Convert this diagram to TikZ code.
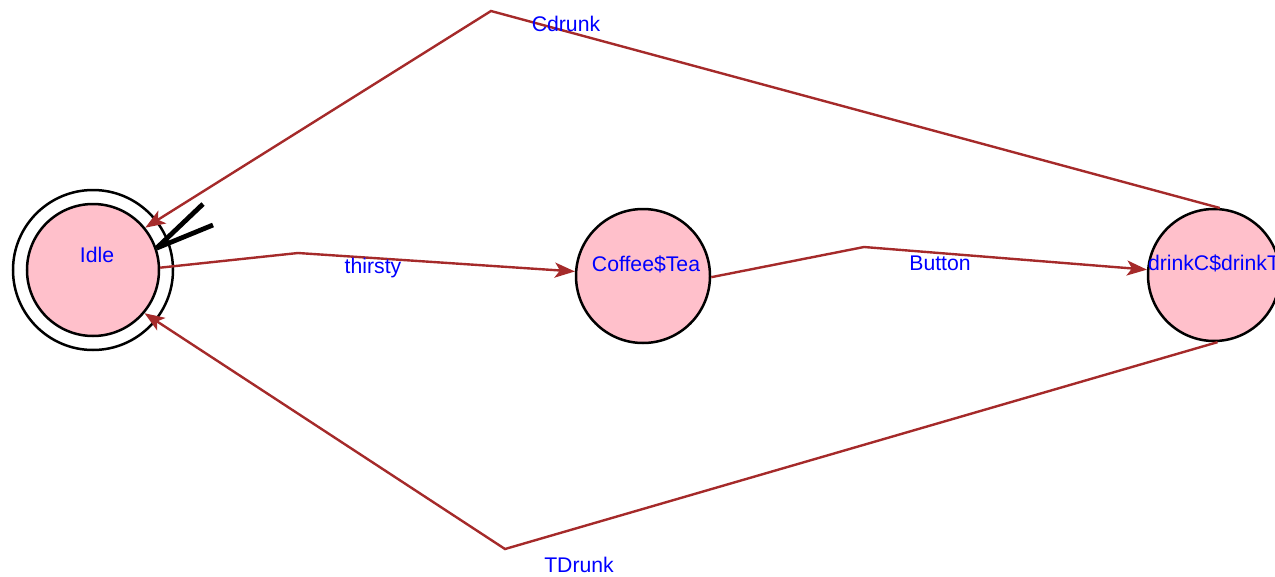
\documentclass[tikz,border=0pt]{standalone}
\usepackage{fontspec}
\setmainfont{Liberation Sans}
\usetikzlibrary{arrows.meta}
\definecolor{edgebrown}{RGB}{165,42,42}
\definecolor{statepink}{RGB}{255,192,203}
\begin{document}
\begin{tikzpicture}[x=1pt,y=-1pt,
  state/.style={circle,draw=black,line width=2.5pt,fill=statepink,inner sep=0pt},
  lbl/.style={text=blue,font=\fontsize{21.2}{24}\selectfont,inner sep=0pt},
  trans/.style={draw=edgebrown,line width=2.4pt,-{Stealth[length=20pt,width=15pt,inset=5pt]}},
  initmark/.style={draw=black,line width=4.8pt}]
\useasboundingbox (0,0) rectangle (1275,576);
\clip (0,0) rectangle (1275,576);
% states
\node[circle,draw=black,line width=2.5pt,minimum size=160pt,inner sep=0pt] (idleouter) at (93,270) {};
\node[state,minimum size=132pt] (idle) at (93,270) {};
\node[state,minimum size=134pt] (coffee) at (643,276) {};
\node[state,minimum size=132pt] (drink) at (1214,275) {};
\node[lbl] (tidle) at (97,255) {Idle};
\node[lbl] (tcoffee) at (646,264) {Coffee\$Tea};
\node[lbl] (tdrink) at (1214,263) {drinkC\$drinkT};
% bend points
\coordinate (b1) at (298,253);
\coordinate (b2) at (864,247);
\coordinate (b3) at (491,11);
\coordinate (b4) at (505,549);
% transitions
\draw[trans] (idle.2) -- (b1) -- (coffee);
\draw[trans] (coffee.-1) -- (b2) -- (drink);
\draw[trans] (drink.85) -- (b3) -- (idle.39);
\draw[trans] (drink.-87) -- (b4) -- (idle.-40);
% edge labels
\node[lbl] (lthirsty) at (373,268) {thirsty};
\node[lbl] (lbutton) at (940,263) {Button};
\node[lbl] (lcdrunk) at (566,24) {Cdrunk};
\node[lbl] (ltdrunk) at (579,565) {TDrunk};
% initial marker
\coordinate (i1) at (203,204);
\coordinate (i2) at (213,225);
\draw[initmark] (idle.19) -- (i1);
\draw[initmark] (idle.19) -- (i2);
\end{tikzpicture}
\end{document}
